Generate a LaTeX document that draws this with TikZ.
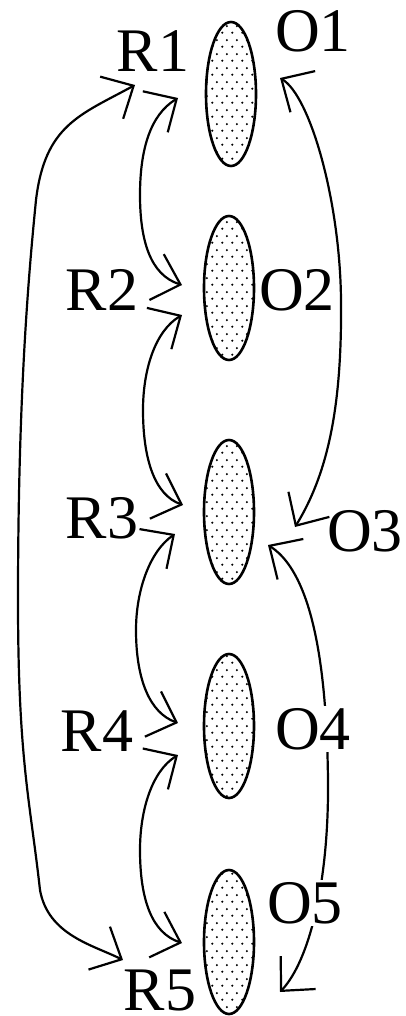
\documentclass[tikz,border=0pt]{standalone}
\usepackage{fontspec}
\setmainfont{Liberation Serif}
\usetikzlibrary{shapes.geometric,arrows.meta,patterns.meta}
\tikzdeclarepattern{
  name=sparsedots,
  type=uncolored,
  bounding box={(0pt,0pt) and (10pt,14pt)},
  tile size={(10pt,14pt)},
  code={
    \fill (2.5pt,3.5pt) circle (1.25pt);
    \fill (7.5pt,10.5pt) circle (1.25pt);
  }
}
\begin{document}
\begin{tikzpicture}[x=1pt,y=-1pt,
  lbl/.style={font=\fontsize{62}{62}\selectfont, inner sep=0pt},
  lblw/.style={lbl, fill=white, inner sep=2pt},
  blob/.style={ellipse, draw, line width=2.6pt, minimum width=50pt,
    minimum height=144pt, inner sep=0pt, pattern=sparsedots},
  barb/.tip={Straight Barb[length=25pt,width=48pt]},
  link/.style={line width=2.2pt, barb-barb}
]
\useasboundingbox (0,0) rectangle (406,1016);

% ellipses
\node[blob] (e1) at (231,94) {};
\node[blob] (e2) at (229,288) {};
\node[blob] (e3) at (229,512) {};
\node[blob] (e4) at (229,726) {};
\node[blob] (e5) at (229,942) {};

% arrow end points
\coordinate (r1o) at (135,85);
\coordinate (r5o) at (123,960);
\coordinate (r1i) at (178,98);
\coordinate (r2a) at (182,285);
\coordinate (r2b) at (182,315);
\coordinate (r3a) at (183,505);
\coordinate (r3b) at (175,534);
\coordinate (r4a) at (178,723);
\coordinate (r4b) at (178,755);
\coordinate (r5a) at (182,943);
\coordinate (o1a) at (280,78);
\coordinate (o3a) at (295,527);
\coordinate (o3b) at (268,545);
\coordinate (o5a) at (280,992);

% connectors
\draw[link] (r1o) .. controls (80,115) and (45,125) .. (36,200)
  .. controls (28,280) and (18,400) .. (18,600)
  .. controls (18,760) and (30,800) .. (40,890)
  .. controls (48,935) and (93,945) .. (r5o);
\draw[link] (r1i) .. controls (150,115) and (140,150) .. (140,195)
  .. controls (140,240) and (150,275) .. (r2a);
\draw[link] (r2b) .. controls (155,331) and (143,370) .. (143,410)
  .. controls (143,460) and (155,495) .. (r3a);
\draw[link] (r3b) .. controls (150,551) and (136,590) .. (136,630)
  .. controls (136,680) and (150,713) .. (r4a);
\draw[link] (r4b) .. controls (152,771) and (140,810) .. (140,850)
  .. controls (140,900) and (152,933) .. (r5a);
\draw[link] (o1a) .. controls (310,96) and (340,200) .. (341,300)
  .. controls (342,400) and (330,470) .. (o3a);
\draw[link] (o3b) .. controls (320,578) and (327,700) .. (328,780)
  .. controls (329,880) and (310,960) .. (o5a);

% labels
\node[lbl] (R1) at (153,51) {R1};
\node[lbl] (O1) at (313,31) {O1};
\node[lbl] (R2) at (102,290) {R2};
\node[lbl] (O2) at (297,290) {O2};
\node[lbl] (R3) at (102,518) {R3};
\node[lbl] (O3) at (365,531) {O3};
\node[lbl] (R4) at (97,731) {R4};
\node[lblw] (O4) at (313,729) {O4};
\node[lbl] (R5) at (160,990) {R5};
\node[lblw] (O5) at (305,903) {O5};
\end{tikzpicture}
\end{document}
